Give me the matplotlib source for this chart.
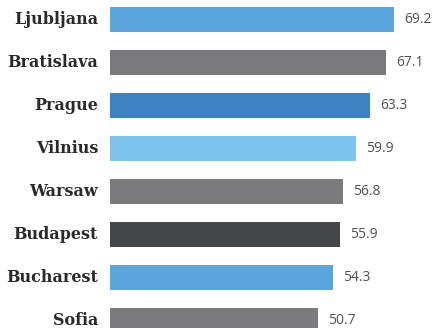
import matplotlib
matplotlib.use("Agg")
import matplotlib.pyplot as plt

cities = ["Ljubljana", "Bratislava", "Prague", "Vilnius", "Warsaw", "Budapest", "Bucharest", "Sofia"]
values = [69.2, 67.1, 63.3, 59.9, 56.8, 55.9, 54.3, 50.7]
colors = ["#5aa6dc", "#7a7a7c", "#3d82c3", "#7cc3ee", "#7b7b7d", "#45464a", "#5aa6dc", "#7b7b7d"]

W, H = 436, 328
fig = plt.figure(figsize=(W / 100, H / 100), dpi=100)
x0_px = 110
scale = 4.11
xmax = (W - x0_px) / scale
ax = fig.add_axes([x0_px / W, 0, 1 - x0_px / W, 1])
ax.set_xlim(0, xmax)
ax.set_ylim(7 + 7.5 / 43, -19.5 / 43)

ypos = list(range(len(cities)))
ax.barh(ypos, values, height=25 / 43, color=colors, left=0)

for y, v, c in zip(ypos, values, cities):
    ax.text(v + 10 / scale, y, f"{v:.1f}", va="center", ha="left",
            fontsize=10, family="Open Sans", color="#505050")
    ax.text(-12 / scale, y, c, va="center", ha="right", fontsize=11.5,
            family="DejaVu Serif", fontweight="bold", color="#2a2a2a")

ax.axis("off")
fig.savefig("out.png", dpi=100)
